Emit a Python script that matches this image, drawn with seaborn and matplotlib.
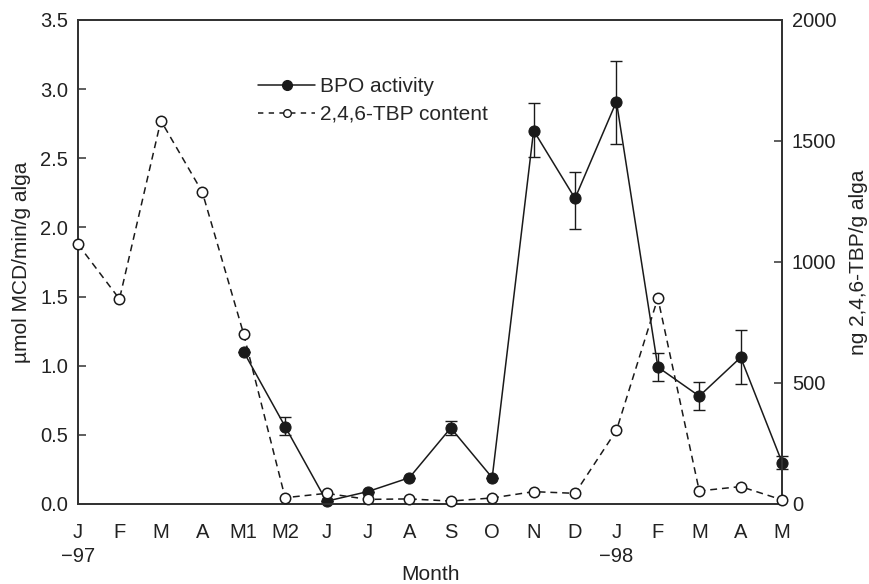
import numpy as np
import pandas as pd
import matplotlib
matplotlib.use("Agg")
import matplotlib.pyplot as plt
import seaborn as sns
from matplotlib.lines import Line2D

sns.set_theme(style="white")
plt.rcParams["font.family"] = ["Liberation Sans", "DejaVu Sans"]

months = ["J\n\u221297", "F", "M", "A", "M1", "M2", "J", "J", "A", "S", "O",
          "N", "D", "J\n\u221298", "F", "M", "A", "M"]

# BPO activity (µmol MCD/min/g alga), measured from M1 onwards
bpo = [np.nan, np.nan, np.nan, np.nan, 1.10, 0.56, 0.02, 0.09, 0.19, 0.55,
       0.19, 2.70, 2.21, 2.91, 0.99, 0.78, 1.06, 0.30]
bpo_err_low = [np.nan, np.nan, np.nan, np.nan, 0.0, 0.06, 0.0, 0.0, 0.0, 0.05,
               0.0, 0.19, 0.22, 0.31, 0.10, 0.10, 0.19, 0.05]
bpo_err_high = [np.nan, np.nan, np.nan, np.nan, 0.0, 0.07, 0.0, 0.0, 0.0, 0.05,
                0.0, 0.20, 0.19, 0.29, 0.10, 0.10, 0.20, 0.05]

# 2,4,6-TBP content (ng/g alga)
tbp = [1073, 847, 1584, 1289, 702, 26, 44, 19, 21, 12, 25, 51, 44, 304,
       851, 54, 72, 17]

x = np.arange(len(months))
df = pd.DataFrame({"x": x, "bpo": bpo, "tbp": tbp})

INK = "#1a1a1a"
DASH = (0, (4.5, 3.2))

fig = plt.figure(figsize=(8.69, 5.84), dpi=100)
ax = fig.add_axes([0.0898, 0.137, 0.8102, 0.8288])
ax2 = ax.twinx()

# BPO activity with error bars
mask = ~np.isnan(df["bpo"])
yerr = np.vstack([np.array(bpo_err_low)[mask], np.array(bpo_err_high)[mask]])
ax.errorbar(df["x"][mask], df["bpo"][mask], yerr=yerr, fmt="none",
            ecolor=INK, elinewidth=1.0, capsize=4, capthick=1.0, zorder=2,
            clip_on=False)
sns.lineplot(data=df[mask], x="x", y="bpo", ax=ax, color=INK,
             linewidth=1.1, marker="o", markersize=8, markerfacecolor=INK,
             markeredgecolor=INK, zorder=3, legend=False, clip_on=False)

# TBP content on the secondary axis
sns.lineplot(data=df, x="x", y="tbp", ax=ax2, color=INK, linewidth=1.1,
             linestyle=DASH, marker="o", markersize=7.5,
             markerfacecolor="white", markeredgecolor=INK,
             markeredgewidth=1.1, zorder=3, legend=False, clip_on=False)

ax.set_xlim(0, len(months) - 1)
ax.set_ylim(0, 3.5)
ax2.set_ylim(0, 2000)
ax.set_yticks(np.arange(0, 3.51, 0.5))
ax.set_yticklabels([f"{v:.1f}" for v in np.arange(0, 3.51, 0.5)])
ax2.set_yticks([0, 500, 1000, 1500, 2000])
ax.set_xticks(x)
ax.set_xticklabels(months)

for a in (ax, ax2):
    for s in a.spines.values():
        s.set_color("#333333")
        s.set_linewidth(1.3)
    a.tick_params(direction="in", length=6, width=1.1, colors="#333333",
                  labelcolor="#222222", labelsize=14.5)
ax.tick_params(axis="x", pad=14)
ax.tick_params(axis="y", pad=7)
ax2.tick_params(axis="y", pad=7)
for lbl in ax.get_xticklabels():
    lbl.set_linespacing(1.3)
    lbl.set_horizontalalignment("center")

ax.set_xlabel("Month", fontsize=15, color="#222222", labelpad=-1)
ax.set_ylabel("\u00b5mol MCD/min/g alga", fontsize=15, color="#222222", labelpad=7)
ax2.set_ylabel("ng 2,4,6-TBP/g alga", fontsize=15, color="#222222", labelpad=9)
ax.grid(False)
ax2.grid(False)

handles = [
    Line2D([], [], color=INK, linewidth=1.1, marker="o", markersize=7,
           markerfacecolor=INK, markeredgecolor=INK),
    Line2D([], [], color=INK, linewidth=1.1, linestyle=(0, (3.5, 3.5)),
           marker="o", markersize=5.5, markerfacecolor="white",
           markeredgecolor=INK),
]
ax2.legend(handles, ["BPO activity", "2,4,6-TBP content"], loc="upper left",
           bbox_to_anchor=(0.2557, 0.882), frameon=False, fontsize=15,
           handlelength=2.75, handletextpad=0.2, labelspacing=0.42,
           borderpad=0, borderaxespad=0, markerfirst=True)

fig.savefig("out.png", dpi=100)
